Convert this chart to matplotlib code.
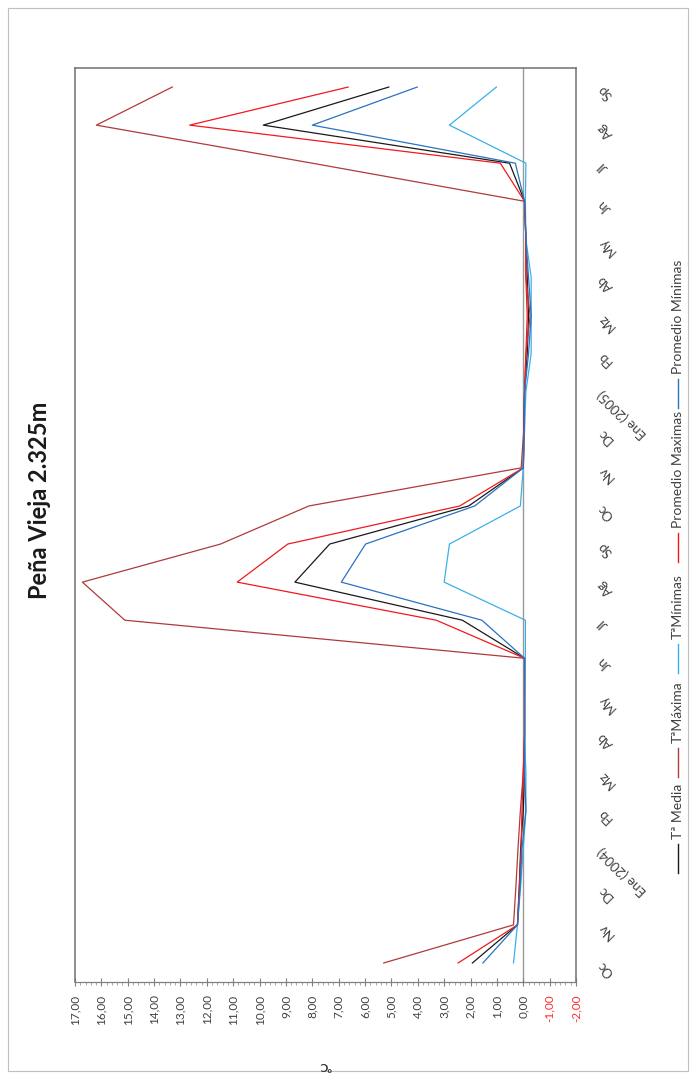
import matplotlib
matplotlib.use('Agg')
import matplotlib.pyplot as plt
from matplotlib.lines import Line2D
from matplotlib.patches import Rectangle
from matplotlib.ticker import MultipleLocator

plt.rcParams['font.family'] = ['Lato', 'DejaVu Sans']

# Meses (Oct 2003 - Sep 2005)
meses = ['Oc', 'Nv', 'Dc', 'Ene (2004)', 'Fb', 'Mz', 'Ab', 'My', 'Jn', 'Jl', 'Ag', 'Sp',
         'Oc', 'Nv', 'Dc', 'Ene (2005)', 'Fb', 'Mz', 'Ab', 'My', 'Jn', 'Jl', 'Ag', 'Sp']

t_media = [1.93, 0.22, 0.15, 0.10, 0.00, -0.05, -0.05, -0.05, -0.05, 2.31, 8.66, 7.34,
           2.07, 0.00, -0.03, -0.05, -0.15, -0.20, -0.15, -0.10, -0.05, 0.52, 9.86, 5.10]
t_maxima = [5.29, 0.37, 0.28, 0.20, 0.11, 0.00, -0.05, -0.05, -0.05, 15.11, 16.72, 11.48,
            8.13, 0.08, -0.02, -0.05, -0.10, -0.26, -0.10, -0.10, -0.05, 8.00, 16.19, 13.31]
t_minimas = [0.37, 0.22, 0.10, 0.00, -0.10, -0.10, -0.05, -0.05, -0.08, -0.08, 3.00, 2.80,
             0.11, 0.00, -0.05, -0.10, -0.30, -0.30, -0.30, -0.10, -0.08, -0.10, 2.80, 1.02]
prom_max = [2.47, 0.22, 0.15, 0.08, 0.05, 0.00, -0.05, -0.05, -0.05, 3.30, 10.85, 8.93,
            2.41, 0.00, -0.03, -0.05, -0.10, -0.15, -0.10, -0.10, -0.05, 0.87, 12.65, 6.64]
prom_min = [1.53, 0.22, 0.12, 0.05, -0.10, -0.05, -0.05, -0.05, -0.05, 1.57, 6.90, 5.98,
            1.84, 0.00, -0.03, -0.05, -0.20, -0.30, -0.20, -0.10, -0.05, 0.30, 8.00, 4.02]

valores_eje = list(range(17, -3, -1))

series = [
    ('Tª Media', t_media, '#1a1a1a'),
    ('TªMáxima', t_maxima, '#b03a3a'),
    ('TªMínimas', t_minimas, '#3bb0e8'),
    ('Promedio Maximas', prom_max, '#f0191e'),
    ('Promedio Mínimas', prom_min, '#2a72c0'),
]

W, H = 699, 1079
fig = plt.figure(figsize=(W / 100, H / 100), dpi=100)

def fx(px):
    return px / W

def fy(py):
    return 1 - py / H

ax = fig.add_axes([fx(75), fy(982), fx(576) - fx(75), fy(68) - fy(982)])

idx = list(range(len(meses)))
ax.axvline(0, color='#9a9a9a', lw=1.0, zorder=1)
for nombre, vals, col in series:
    ax.plot(vals, idx, color=col, lw=0.9, zorder=3)

ax.set_xlim(17, -2)
ax.set_ylim(-0.5, len(meses) - 0.5)

# eje de valores (abajo)
ax.set_xticks(valores_eje)
ax.set_xticklabels(['%d,00' % v for v in valores_eje], rotation=90, fontsize=8.5,
                   color='#404040')
for lab, v in zip(ax.get_xticklabels(), valores_eje):
    if v < 0:
        lab.set_color('#ff2a2a')
ax.xaxis.set_minor_locator(MultipleLocator(0.2))
ax.tick_params(axis='x', which='major', direction='inout', length=6, width=0.8,
               color='#808080', pad=6)
ax.tick_params(axis='x', which='minor', direction='out', length=2.5, width=0.6,
               color='#9a9a9a')

# eje de categorías (derecha)
ax.yaxis.tick_right()
ax.set_yticks(idx)
ax.set_yticklabels(meses, fontsize=9.5, color='#404040', rotation=135,
                   rotation_mode='anchor', ha='right', va='center')
ax.tick_params(axis='y', which='both', length=0, pad=17)

for s in ['left', 'top', 'right']:
    ax.spines[s].set_color('#707070')
    ax.spines[s].set_linewidth(1.1)
ax.spines['bottom'].set_color('#808080')
ax.spines['bottom'].set_linewidth(0.9)

# título y unidad
fig.text(fx(40), fy(500), 'Peña Vieja 2.325m', rotation=90, fontsize=17,
         fontweight='bold', ha='center', va='center', color='#1a1a1a')
fig.text(fx(325), fy(1065), 'ºC', rotation=180, fontsize=8.5, fontweight='bold',
         ha='center', va='center', color='#333333')

# leyenda vertical
leg_pos = [873, 777, 673, 562, 408]
for (nombre, vals, col), y0 in zip(series, leg_pos):
    fig.add_artist(Line2D([fx(678), fx(678)], [fy(y0), fy(y0 - 29)], color=col,
                          lw=1.0, transform=fig.transFigure))
    fig.text(fx(678), fy(y0 - 34), nombre, rotation=90, fontsize=10, color='#404040',
             ha='left', va='center', rotation_mode='anchor')

# borde del gráfico
fig.add_artist(Rectangle((fx(8), fy(1071)), fx(688) - fx(8), fy(8) - fy(1071),
                         fill=False, edgecolor='#bfbfbf', lw=0.8,
                         transform=fig.transFigure))

fig.savefig('out.png', dpi=100)
